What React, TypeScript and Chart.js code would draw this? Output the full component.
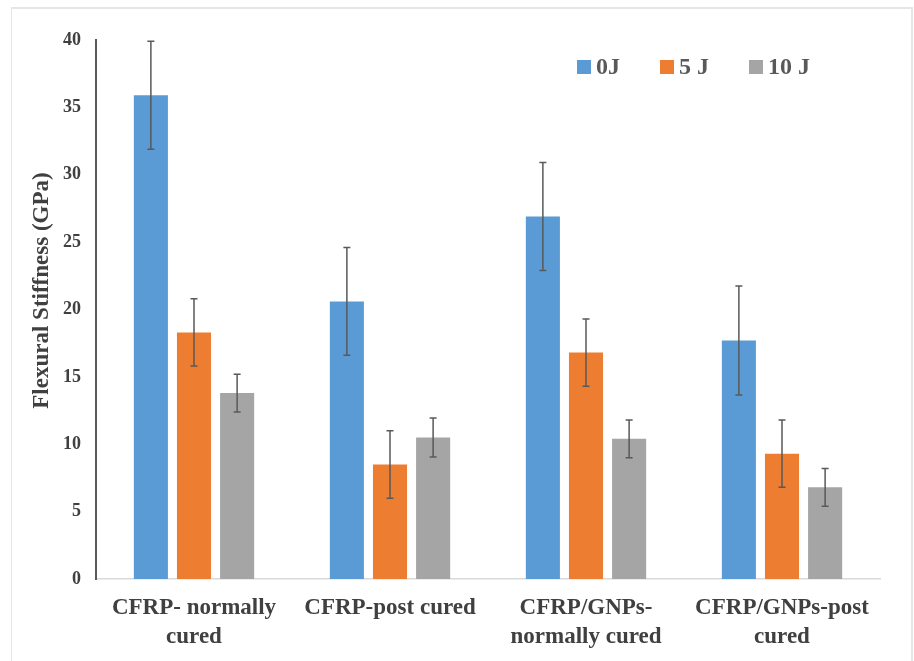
import React, { useEffect, useRef } from "react";
import { Chart, registerables } from "chart.js";

Chart.register(...registerables);

const categories: string[][] = [
  ["CFRP- normally", "cured"],
  ["CFRP-post cured"],
  ["CFRP/GNPs-", "normally cured"],
  ["CFRP/GNPs-post", "cured"],
];
const seriesLabels = ["0J", "5 J", "10 J"];
const values0J = [35.9, 20.6, 26.9, 17.7];
const values5J = [18.3, 8.5, 16.8, 9.3];
const values10J = [13.8, 10.5, 10.4, 6.8];
const errors0J = [4.0, 4.0, 4.0, 4.05];
const errors5J = [2.5, 2.5, 2.5, 2.5];
const errors10J = [1.4, 1.45, 1.4, 1.4];
const colors = ["#5b9bd5", "#ed7d31", "#a5a5a5"];
const yTitle = "Flexural Stiffness (GPa)";

const FONT = '"Liberation Serif", "Times New Roman", serif';

const errorBarPlugin = {
  id: "errorBars",
  afterDatasetsDraw(chart: any) {
    const ctx = chart.ctx;
    const yScale = chart.scales.y;
    ctx.save();
    ctx.strokeStyle = "#595959";
    ctx.lineWidth = 1.5;
    chart.data.datasets.forEach((ds: any, di: number) => {
      const meta = chart.getDatasetMeta(di);
      meta.data.forEach((el: any, i: number) => {
        const v = ds.data[i];
        const e = ds.errors[i];
        const yTop = yScale.getPixelForValue(v + e);
        const yBot = yScale.getPixelForValue(v - e);
        const x = el.x;
        ctx.beginPath();
        ctx.moveTo(x, yTop);
        ctx.lineTo(x, yBot);
        ctx.moveTo(x - 3.5, yTop);
        ctx.lineTo(x + 3.5, yTop);
        ctx.moveTo(x - 3.5, yBot);
        ctx.lineTo(x + 3.5, yBot);
        ctx.stroke();
      });
    });
    ctx.restore();
  },
};

const legendPlugin = {
  id: "innerLegend",
  afterDraw(chart: any) {
    const ctx = chart.ctx;
    const area = chart.chartArea;
    ctx.save();
    ctx.font = `bold 24px ${FONT}`;
    ctx.textBaseline = "middle";
    ctx.textAlign = "left";
    let x = area.right - 303;
    const yMid = area.top + 27;
    chart.data.datasets.forEach((ds: any) => {
      ctx.fillStyle = ds.backgroundColor;
      ctx.fillRect(x, yMid - 7, 14, 14);
      ctx.fillStyle = "#595959";
      ctx.fillText(ds.label, x + 19, yMid + 1);
      const w = ctx.measureText(ds.label).width;
      x += 19 + w + 40;
    });
    ctx.restore();
  },
};

const yTitlePlugin = {
  id: "yTitle",
  afterDraw(chart: any) {
    const ctx = chart.ctx;
    const area = chart.chartArea;
    const ys = chart.scales.y;
    ctx.save();
    ctx.font = `bold 23px ${FONT}`;
    ctx.fillStyle = "#404040";
    ctx.textAlign = "center";
    ctx.textBaseline = "middle";
    ctx.translate(ys.left + 25, (area.top + area.bottom) / 2 - 19);
    ctx.rotate(-Math.PI / 2);
    ctx.fillText(yTitle, 0, 0);
    ctx.restore();
  },
};

export default function App() {
  const canvasRef = useRef<HTMLCanvasElement | null>(null);

  useEffect(() => {
    if (!canvasRef.current) return;
    const seriesValues = [values0J, values5J, values10J];
    const seriesErrors = [errors0J, errors5J, errors10J];
    const chart = new Chart(canvasRef.current, {
      type: "bar",
      data: {
        labels: categories,
        datasets: seriesLabels.map((label, i) => ({
          label,
          data: seriesValues[i],
          errors: seriesErrors[i],
          backgroundColor: colors[i],
          borderWidth: 0,
          categoryPercentage: 0.66,
          barPercentage: 0.79,
        })) as any,
      },
      options: {
        responsive: false,
        animation: false,
        layout: { padding: { left: 17, top: 40, right: 34, bottom: 0 } },
        plugins: {
          legend: { display: false },
          tooltip: { enabled: false },
        },
        scales: {
          x: {
            grid: { display: false, drawTicks: false },
            border: { display: true, color: "#d9d9d9", width: 1.5 },
            ticks: {
              padding: 14,
              maxRotation: 0,
              autoSkip: false,
              color: "#404040",
              font: { family: FONT, size: 23, weight: "bold", lineHeight: 1.27 },
            },
            afterFit(scale: any) {
              scale.height = 82;
            },
          },
          y: {
            min: 0,
            max: 40,
            grid: { display: false, drawTicks: false },
            border: { display: true, color: "#595959", width: 2 },
            ticks: {
              stepSize: 5,
              padding: 15,
              color: "#404040",
              font: { family: FONT, size: 18, weight: "bold" },
            },
            afterFit(scale: any) {
              scale.width = 79;
            },
          },
        },
      } as any,
      plugins: [errorBarPlugin, legendPlugin, yTitlePlugin],
    });
    return () => chart.destroy();
  }, []);

  return (
    <div>
      <div
        style={{
          position: "absolute",
          left: 11,
          top: 7,
          width: 902,
          height: 670,
          borderTop: "2px solid #e6e6e6",
          borderLeft: "1px solid #e6e6e6",
          borderRight: "2px solid #e6e6e6",
          boxSizing: "border-box",
        }}
      />
      <canvas
        ref={canvasRef}
        width={914}
        height={661}
        style={{ position: "absolute", left: 0, top: 0, width: 914, height: 661 }}
      />
    </div>
  );
}
